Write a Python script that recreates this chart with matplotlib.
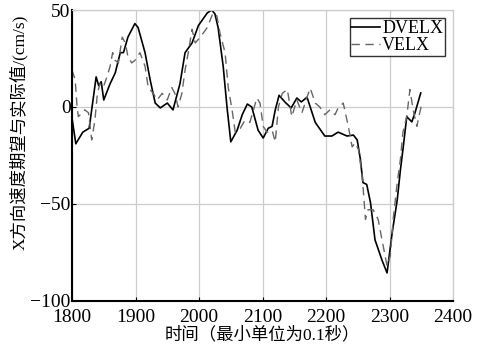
import matplotlib
matplotlib.use("Agg")
import matplotlib.pyplot as plt

# DVELX (desired velocity)
t_dvelx = [1800, 1806, 1817, 1827, 1831, 1838, 1842, 1846, 1850, 1860, 1868, 1876,
           1881, 1888, 1899, 1904, 1915, 1923, 1931, 1939, 1950, 1959, 1970, 1978,
           1989, 1999, 2013, 2020, 2025, 2030, 2038, 2044, 2050, 2060, 2068, 2076,
           2083, 2093, 2101, 2109, 2115, 2120, 2126, 2135, 2145, 2154, 2161, 2170,
           2175, 2183, 2198, 2209, 2219, 2233, 2243, 2249, 2254, 2258, 2264, 2270,
           2277, 2288, 2296, 2304, 2312, 2317, 2321, 2327, 2335, 2340, 2349]
v_dvelx = [-5.7, -19, -13, -11, -1.5, 15.5, 11, 13, 3.6, 12, 17.5, 28,
           28, 36, 43, 41, 28, 14, 2, -0.5, 2, -1.5, 12, 28,
           33, 42, 48.5, 50, 48, 41, 21, 0, -18, -12, -4, 1.5,
           0, -12, -16, -11, -10, -1.5, 6, 2.6, -0.5, 4.6, 2.6, 5,
           0, -8, -15, -15, -13, -15, -14.5, -17, -27, -39, -40, -49.5,
           -68.5, -79, -85.6, -65, -48, -32.5, -22, -5, -7.7, -3, 7.2]

# VELX (actual velocity)
t_velx = [1800, 1805, 1808, 1810, 1816, 1820, 1826, 1831, 1833, 1836, 1840, 1844,
          1849, 1855, 1860, 1864, 1868, 1873, 1879, 1884, 1888, 1894, 1899, 1907,
          1915, 1920, 1928, 1934, 1942, 1950, 1957, 1962, 1967, 1973, 1978, 1983,
          1989, 1994, 2002, 2013, 2022, 2028, 2033, 2041, 2046, 2052, 2057, 2065,
          2072, 2080, 2091, 2096, 2101, 2107, 2115, 2120, 2125, 2131, 2139, 2146,
          2154, 2162, 2170, 2175, 2183, 2190, 2198, 2206, 2214, 2219, 2227, 2235,
          2241, 2246, 2251, 2257, 2262, 2266, 2274, 2282, 2288, 2296, 2301, 2306,
          2312, 2317, 2321, 2327, 2332, 2337, 2343, 2346, 2351]
v_velx = [19, 14, 0, -5, -3, -1.5, -3, -17, -13, -7, 7, 12,
          10, 15.5, 21, 28, 24, 22.7, 36, 33, 26, 22.7, 24, 28,
          21, 10, 7, 3.6, 7, 3.6, 10, 7, 0, 7, 19, 28,
          40, 33, 36, 41, 48.5, 47, 38, 28, 10, -1.5, -13, -11,
          -7, -8, 4.6, 2, -10, -13, -12, -18, 0, 7, 9, -5,
          3.6, -3, 5, 9.7, 2, 0, -4, -1.5, -4, -0.5, 2, -10,
          -20.6, -18.5, -22, -36, -58, -53, -53, -58, -68.5, -82, -77, -56.7,
          -39, -27, -13, -5, 9, -1.5, -10, -5, 2]

xticks = [1800, 1900, 2000, 2100, 2200, 2300, 2400]
yticks = [-100, -50, 0, 50]

num_font = ["Liberation Serif", "Noto Sans CJK SC"]

fig = plt.figure(figsize=(4.8, 3.45), dpi=100)
ax = fig.add_axes([0.15, 0.128, 0.794, 0.843])

ax.plot(t_dvelx, v_dvelx, color="black", lw=1.2, label="DVELX")
ax.plot(t_velx, v_velx, color="#666666", lw=1.0, ls=(0, (6, 4)), label="VELX")

ax.set_xlim(1800, 2400)
ax.set_ylim(-100, 50)
ax.set_xticks(xticks)
ax.set_yticks(yticks)
ax.set_xticklabels([str(x) for x in xticks], family=num_font, fontsize=14)
ax.set_yticklabels(["\u2212100", "\u221250", "0", "50"], family=num_font, fontsize=14,
                   va="center_baseline")
ax.tick_params(direction="in", length=3)
ax.tick_params(axis="x", pad=6)
ax.tick_params(axis="y", pad=1)

ax.grid(True, color="#cccccc", lw=0.9)
ax.set_axisbelow(True)
for s in ["top", "right"]:
    ax.spines[s].set_color("#cccccc")
    ax.spines[s].set_linewidth(0.9)
for s in ["left", "bottom"]:
    ax.spines[s].set_color("black")
    ax.spines[s].set_linewidth(1.5)

ax.set_xlabel("时间（最小单位为0.1秒）", family=num_font, fontsize=12.5, labelpad=0)
ax.set_ylabel("X方向速度期望与实际值/(cm/s)", family=num_font, fontsize=12.5)
ax.yaxis.set_label_coords(-0.115, 0.58)

leg = ax.legend(loc="upper right", prop={"family": num_font, "size": 13},
                frameon=True, fancybox=False, edgecolor="black",
                handlelength=1.6, handletextpad=0.1, borderpad=0.1,
                labelspacing=0.0, borderaxespad=0.45)
leg.get_frame().set_linewidth(1.0)

fig.savefig("out.png", dpi=100)
